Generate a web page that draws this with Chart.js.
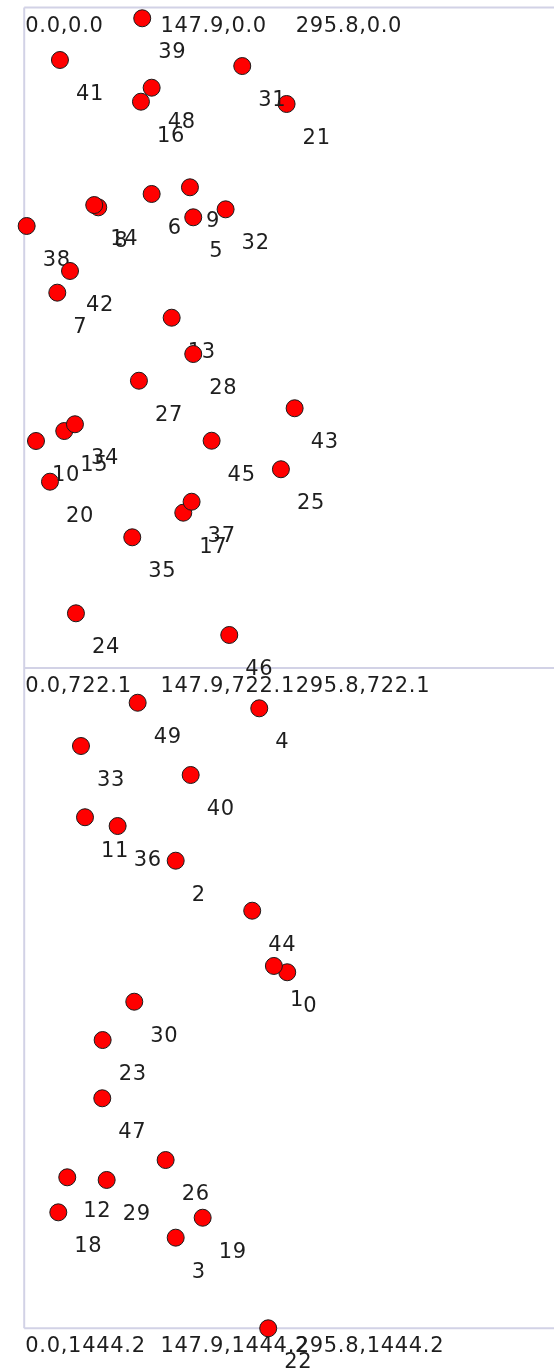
<!DOCTYPE html>
<html>
<head>
<meta charset="utf-8">
<script src="https://cdn.jsdelivr.net/npm/chart.js@4.4.1/dist/chart.umd.min.js"></script>
<style>
  html, body { margin: 0; padding: 0; background: #fff; overflow: hidden; }
  #graph { display: block; }
</style>
</head>
<body>
<canvas id="graph" width="554" height="1370"></canvas>
<script>
// node positions (y grows downward)
const nodeX = [287.7, 273.1, 165.7, 165.7, 257.1, 184.9, 139.4, 36.2, 81.0, 181.3,
  12.9, 66.5, 47.1, 161.3, 76.6, 43.8, 127.7, 174.0, 37.3, 195.2,
  28.2, 287.0, 266.9, 85.8, 56.6, 280.8, 154.7, 125.5, 184.9, 90.2,
  120.4, 238.5, 220.3, 62.1, 55.5, 118.2, 102.2, 183.1, 2.7, 129.1,
  182.1, 39.1, 50.1, 295.8, 249.4, 205.0, 224.3, 85.4, 139.4, 124.1];
const nodeY = [1054.9, 1048.0, 932.9, 1345.1, 766.3, 229.4, 203.9, 311.8, 218.5, 196.6,
  474.0, 885.4, 1279.1, 339.2, 216.0, 463.1, 103.0, 552.4, 1317.4, 1323.3,
  518.5, 105.5, 1444.2, 1129.0, 662.4, 504.9, 1260.2, 408.1, 378.9, 1282.0,
  1087.1, 64.0, 220.7, 807.5, 455.7, 579.3, 895.0, 540.4, 238.9, 11.8,
  839.2, 57.4, 288.1, 438.2, 987.6, 473.7, 686.1, 1192.7, 87.7, 760.2];
const nodeNames = nodeX.map((_, i) => String(i));

// reference lines and their corner labels
const gridX = [0, 147.9, 295.8];
const gridY = [0, 722.1, 1444.2];

const FONT = '21px "DejaVu Sans"';
const TEXT = "#1e1e1e";

function setText(ctx) {
  ctx.font = FONT;
  ctx.fillStyle = TEXT;
  ctx.textAlign = "left";
  ctx.textBaseline = "alphabetic";
  if ("letterSpacing" in ctx) ctx.letterSpacing = "0.7px";
}

const framePlugin = {
  id: "frame",
  beforeDatasetsDraw(chart) {
    const { ctx, chartArea, scales } = chart;
    const x = scales.x, y = scales.y;
    ctx.save();
    ctx.strokeStyle = "#d2d2e6";
    ctx.lineWidth = 2;
    gridY.forEach((v) => {
      const py = y.getPixelForValue(v);
      ctx.beginPath();
      ctx.moveTo(chartArea.left, py);
      ctx.lineTo(chartArea.right, py);
      ctx.stroke();
    });
    const px0 = x.getPixelForValue(gridX[0]);
    ctx.beginPath();
    ctx.moveTo(px0, y.getPixelForValue(gridY[0]));
    ctx.lineTo(px0, y.getPixelForValue(gridY[gridY.length - 1]));
    ctx.stroke();

    setText(ctx);
    gridY.forEach((vy) => {
      gridX.forEach((vx) => {
        ctx.fillText(vx.toFixed(1) + "," + vy.toFixed(1),
          x.getPixelForValue(vx) + 1, y.getPixelForValue(vy) + 24);
      });
    });
    ctx.restore();
  },
  // each node is its own dataset so its label is painted right after it
  afterDatasetDraw(chart, args) {
    const el = args.meta.data[0];
    if (!el) return;
    const { ctx } = chart;
    ctx.save();
    setText(ctx);
    ctx.fillText(nodeNames[args.index], el.x + 16, el.y + 40);
    ctx.restore();
  }
};

const datasets = nodeX.map((vx, i) => ({
  data: [{ x: vx, y: nodeY[i] }],
  order: nodeX.length - i,
  backgroundColor: "#ff0000",
  borderColor: "#1a1a1a",
  borderWidth: 1,
  pointRadius: 8.5,
  pointHoverRadius: 8.5,
  clip: false
}));

new Chart(document.getElementById("graph"), {
  type: "scatter",
  data: { datasets },
  options: {
    responsive: false,
    animation: false,
    events: [],
    layout: {
      autoPadding: false,
      padding: { left: 24.2, top: 7.5, right: 0, bottom: 41.7 }
    },
    plugins: { legend: { display: false }, tooltip: { enabled: false } },
    scales: {
      x: { type: "linear", min: 0, max: 579.5, display: false },
      y: { type: "linear", min: 0, max: 1444.2, reverse: true, display: false }
    }
  },
  plugins: [framePlugin]
});
</script>
</body>
</html>
